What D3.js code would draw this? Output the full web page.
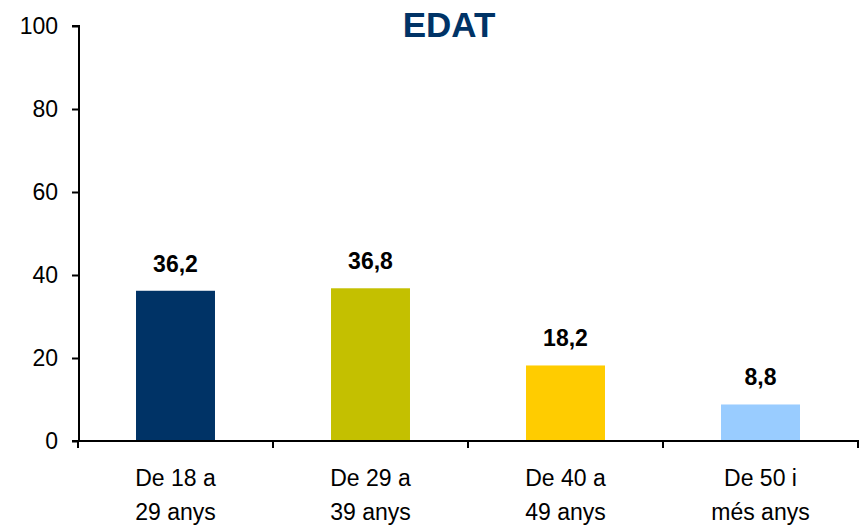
<!DOCTYPE html>
<html>
<head>
<meta charset="utf-8">
<script src="https://cdn.jsdelivr.net/npm/d3@7"></script>
<style>
  body { margin: 0; background: #fff; }
  text { font-family: "Liberation Sans", Arial, sans-serif; }
</style>
</head>
<body>
<script>
// chart data
var categories = [['De 18 a', '29 anys'], ['De 29 a', '39 anys'], ['De 40 a', '49 anys'], ['De 50 i', 'més anys']];
var values = [36.2, 36.8, 18.2, 8.8];
var colors = ['#003366', '#C4C000', '#FFCC00', '#99CCFF'];
var yTicks = [0, 20, 40, 60, 80, 100];

var width = 861;
var height = 529;

var svg = d3.select('body').append('svg')
  .attr('width', width)
  .attr('height', height);

var x = d3.scaleBand()
  .domain(d3.range(categories.length))
  .range([78, 858])
  .paddingInner(0.595)
  .paddingOuter(0.2975);

var y = d3.scaleLinear()
  .domain([0, 100])
  .range([441, 26]);

// title
svg.append('text')
  .attr('x', 449)
  .attr('y', 37)
  .attr('text-anchor', 'middle')
  .attr('font-size', '35px')
  .attr('font-weight', 'bold')
  .attr('fill', '#003366')
  .text('EDAT');

// bars
svg.selectAll('rect.bar').data(values).enter().append('rect')
  .attr('class', 'bar')
  .attr('x', function(d, i){ return x(i); })
  .attr('y', function(d){ return y(d); })
  .attr('width', x.bandwidth())
  .attr('height', function(d){ return y(0) - y(d); })
  .attr('fill', function(d, i){ return colors[i]; });

// value labels
svg.selectAll('text.val').data(values).enter().append('text')
  .attr('class', 'val')
  .attr('x', function(d, i){ return x(i) + x.bandwidth() / 2; })
  .attr('y', function(d){ return y(d) - 19; })
  .attr('text-anchor', 'middle')
  .attr('font-size', '23px')
  .attr('font-weight', 'bold')
  .text(function(d){ return d.toFixed(1).replace('.', ','); });

// y axis
var yAxis = d3.axisLeft(y).tickValues(yTicks).tickSize(7).tickPadding(14);
var gy = svg.append('g').attr('transform', 'translate(79,0)').call(yAxis);
gy.attr('font-size', null).attr('font-family', null);
gy.select('.domain').attr('stroke', '#000').attr('stroke-width', 2).attr('d', 'M-7,' + y(100) + 'H0V' + y(0));
gy.selectAll('.tick line').attr('stroke', '#000').attr('stroke-width', 2);
gy.selectAll('.tick text')
  .attr('font-size', '23px')
  .attr('fill', '#000');

// x axis line
var bounds = d3.range(categories.length + 1).map(function(i){
  return i < categories.length ? x(i) - x.step() * x.paddingInner() / 2 : 858;
});
bounds[0] = 78;
svg.append('line')
  .attr('x1', 72).attr('x2', 859)
  .attr('y1', y(0)).attr('y2', y(0))
  .attr('stroke', '#000').attr('stroke-width', 2);
svg.selectAll('line.xtick').data(bounds).enter().append('line')
  .attr('class', 'xtick')
  .attr('x1', function(d){ return d; }).attr('x2', function(d){ return d; })
  .attr('y1', y(0)).attr('y2', y(0) + 7)
  .attr('stroke', '#000').attr('stroke-width', 2);

// category labels
var cat = svg.selectAll('text.cat').data(categories).enter().append('text')
  .attr('class', 'cat')
  .attr('text-anchor', 'middle')
  .attr('font-size', '23px');
cat.each(function(d, i){
  var t = d3.select(this);
  var cx = x(i) + x.bandwidth() / 2;
  t.append('tspan').attr('x', cx).attr('y', 486).text(d[0]);
  t.append('tspan').attr('x', cx).attr('y', 520).text(d[1]);
});
</script>
</body>
</html>
